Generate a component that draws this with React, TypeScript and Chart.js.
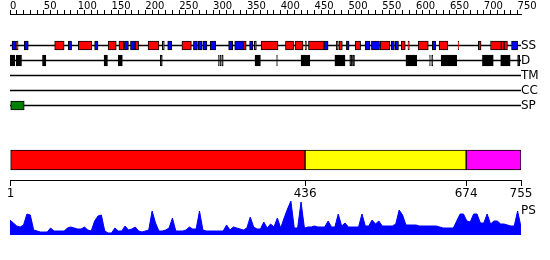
import React, { useEffect, useRef } from 'react';
import { Chart, registerables } from 'chart.js';

Chart.register(...registerables);

// ---------------- data ----------------
const SEQ_LENGTH = 755;

const trackNames = ['SS', 'D', 'TM', 'CC', 'SP'];
const trackRows = [0, 1, 2, 3, 4];
const psLabel = 'PS';
const psLabelRow = 11;

// secondary structure: helices (red)
const helixRanges: [number, number][] = [
  [9, 12], [66, 80], [101, 121], [145, 157], [161, 168], [185, 190],
  [204, 220], [225, 228], [254, 268], [345, 349], [361, 364], [371, 396],
  [407, 419], [421, 433], [436, 438], [441, 464], [482, 485], [486, 491],
  [510, 518], [547, 561], [578, 584], [588, 590], [603, 618], [634, 647],
  [662, 663], [692, 696], [710, 726], [726, 730], [730, 735],
];
// secondary structure: strands (blue)
const strandRanges: [number, number][] = [
  [3, 9], [21, 27], [86, 91], [125, 130], [169, 175], [178, 185],
  [233, 239], [271, 277], [278, 284], [285, 291], [296, 304], [323, 329],
  [332, 345], [354, 359], [464, 470], [497, 501], [525, 532], [534, 546],
  [563, 568], [569, 574], [624, 629], [741, 750],
];
// disorder (black)
const disorderRanges: [number, number][] = [
  [0, 7], [9, 17], [48, 53], [139, 144], [160, 166], [222, 225],
  [308, 309], [310, 312], [313, 315], [362, 370], [394, 395], [430, 443],
  [480, 495], [502, 505], [506, 509], [585, 601], [620, 621], [623, 624.5],
  [637, 660], [698, 714], [725, 739], [750, 753],
];
// signal peptide (green)
const signalRanges: [number, number][] = [[1, 21]];

// domain bar
const domainRanges: [number, number][] = [[1, 436], [436, 674], [674, 755]];
const domainColors = ['#ff0000', '#ffff00', '#ff00ff'];
const domainTicks = [1, 436, 674, 755];
const domainRow = 7.6333333;
const domainAxisRow = 9;

// top ruler
const rulerMax = 750;
const rulerStep = 10;
const rulerLabelStep = 50;

// PS profile, one value every psStep residues starting at 0
const psStep = 5;
const psValues = [
  15, 12, 9, 8, 10, 21, 20, 5, 4, 3,
  3, 3, 7, 4, 4, 4, 4, 7, 8, 7,
  6, 6, 8, 5, 4, 14, 19, 20, 4, 2,
  2, 7, 4, 4, 9, 5, 6, 8, 4, 3,
  4, 5, 24, 12, 4, 4, 5, 7, 17, 4,
  4, 4, 5, 8, 6, 6, 24, 5, 4, 4,
  4, 4, 4, 4, 10, 5, 8, 7, 6, 5,
  7, 18, 8, 6, 6, 13, 7, 11, 8, 17,
  7, 17, 26, 34, 7, 7, 33, 7, 8, 8,
  9, 8, 8, 8, 14, 8, 8, 21, 9, 12,
  8, 8, 8, 8, 21, 9, 9, 15, 11, 14,
  9, 9, 9, 9, 11, 25, 20, 10, 10, 10,
  10, 9, 9, 9, 9, 9, 9, 8, 7, 7,
  7, 7, 14, 21, 21, 14, 13, 21, 21, 12,
  12, 21, 11, 14, 14, 11, 11, 10, 9, 9,
  24, 8,
];

// ---------------- layout ----------------
const FONT = 'DejaVu Sans';
const ROW_MIN = -2.1;
const ROW_MAX = 14.3;
const PS_MIN = -25;
const PS_MAX = 221;

const rulerTicks: number[] = [];
for (let v = 0; v <= rulerMax; v += rulerStep) rulerTicks.push(v);

const labelRows = [...trackRows, psLabelRow];
const labelTexts = [...trackNames, psLabel];

function boxDataset(ranges: [number, number][], row: number, color: string | string[], thickness: number) {
  return {
    type: 'bar',
    indexAxis: 'y',
    xAxisID: 'x',
    yAxisID: 'y',
    grouped: false,
    data: ranges.map((r) => ({ x: r, y: row })),
    backgroundColor: color,
    borderColor: '#000000',
    borderWidth: 1,
    borderSkipped: false,
    barThickness: thickness,
  };
}

function zeroPad(s: any) {
  s.paddingLeft = 0;
  s.paddingRight = 0;
  s.paddingTop = 0;
  s.paddingBottom = 0;
}

export default function App() {
  const ref = useRef<HTMLCanvasElement>(null);

  useEffect(() => {
    if (!ref.current) return;
    const chart = new Chart(ref.current, {
      type: 'bar',
      data: {
        datasets: [
          boxDataset(helixRanges, 0, '#ff0000', 9),
          boxDataset(strandRanges, 0, '#0000ff', 9),
          boxDataset(disorderRanges, 1, '#000000', 11),
          boxDataset(signalRanges, 4, '#008000', 9),
          boxDataset(domainRanges, domainRow, domainColors, 20),
          {
            type: 'bar',
            indexAxis: 'y',
            xAxisID: 'x',
            yAxisID: 'y',
            grouped: false,
            data: trackRows.map((r) => ({ x: [0, SEQ_LENGTH], y: r })),
            backgroundColor: '#000000',
            borderWidth: 0,
            barThickness: 1,
          },
          {
            type: 'line',
            xAxisID: 'x',
            yAxisID: 'yps',
            data: psValues.map((v, i) => ({ x: i * psStep, y: v })),
            borderColor: '#0000ff',
            backgroundColor: '#0000ff',
            borderWidth: 1,
            fill: 'origin',
            pointRadius: 0,
            tension: 0,
          },
        ],
      } as any,
      options: {
        responsive: false,
        animation: false,
        events: [],
        layout: { padding: { left: 10, right: 0, top: 0, bottom: 0 } },
        plugins: {
          legend: { display: false },
          tooltip: { enabled: false },
          title: { display: false },
        },
        scales: {
          x: {
            type: 'linear', axis: 'x', min: 0, max: SEQ_LENGTH, display: false,
            offset: false, bounds: 'data', grid: { offset: false },
          },
          y: {
            type: 'linear', axis: 'y', min: ROW_MIN, max: ROW_MAX, reverse: true, display: false,
            offset: false, bounds: 'data', grid: { offset: false },
          },
          yps: {
            type: 'linear', axis: 'y', min: PS_MIN, max: PS_MAX, display: false,
            offset: false, bounds: 'data', grid: { offset: false },
          },
          xTop: {
            type: 'linear', axis: 'x', position: 'top', min: 0, max: SEQ_LENGTH,
            offset: false, bounds: 'data',
            grid: { drawOnChartArea: false, drawTicks: true, tickLength: 4, color: '#000000', offset: false },
            border: { display: true, color: '#000000', width: 1 },
            ticks: {
              align: 'start', autoSkip: false, maxRotation: 0, minRotation: 0, padding: -2,
              color: '#000000', font: { family: FONT, size: 10 },
              callback: (v: any) => (Number(v) % rulerLabelStep === 0 ? String(v) : ''),
            },
            afterBuildTicks: (s: any) => { s.ticks = rulerTicks.map((v) => ({ value: v })); },
            afterFit: (s: any) => { s.height = 14; zeroPad(s); },
          },
          xBottom: {
            type: 'linear', axis: 'x', position: { y: domainAxisRow }, min: 0, max: SEQ_LENGTH,
            offset: false, bounds: 'data',
            grid: { drawOnChartArea: false, drawTicks: true, tickLength: 5, color: '#000000', offset: false },
            border: { display: true, color: '#000000', width: 1 },
            ticks: {
              autoSkip: false, maxRotation: 0, minRotation: 0, padding: 1,
              color: '#000000', font: { family: FONT, size: 12 },
              callback: (v: any) => String(v),
            },
            afterBuildTicks: (s: any) => { s.ticks = domainTicks.map((v) => ({ value: v })); },
            afterFit: (s: any) => { s.height = 0; zeroPad(s); },
          },
          yLabels: {
            type: 'linear', axis: 'y', position: 'right', min: ROW_MIN, max: ROW_MAX, reverse: true,
            offset: false, bounds: 'data',
            grid: { display: false, drawTicks: false, offset: false },
            border: { display: false },
            ticks: {
              autoSkip: false, padding: 0, color: '#000000', font: { family: FONT, size: 12 },
              callback: (_v: any, i: number) => labelTexts[i],
            },
            afterBuildTicks: (s: any) => { s.ticks = labelRows.map((v) => ({ value: v })); },
            afterFit: (s: any) => { s.width = 29; zeroPad(s); },
          },
        },
      } as any,
    });
    return () => chart.destroy();
  }, []);

  return (
    <div style={{ position: 'absolute', left: 0, top: 0, width: 550, height: 260, background: '#ffffff' }}>
      <canvas ref={ref} width={550} height={260} style={{ display: 'block', width: 550, height: 260 }} />
    </div>
  );
}
